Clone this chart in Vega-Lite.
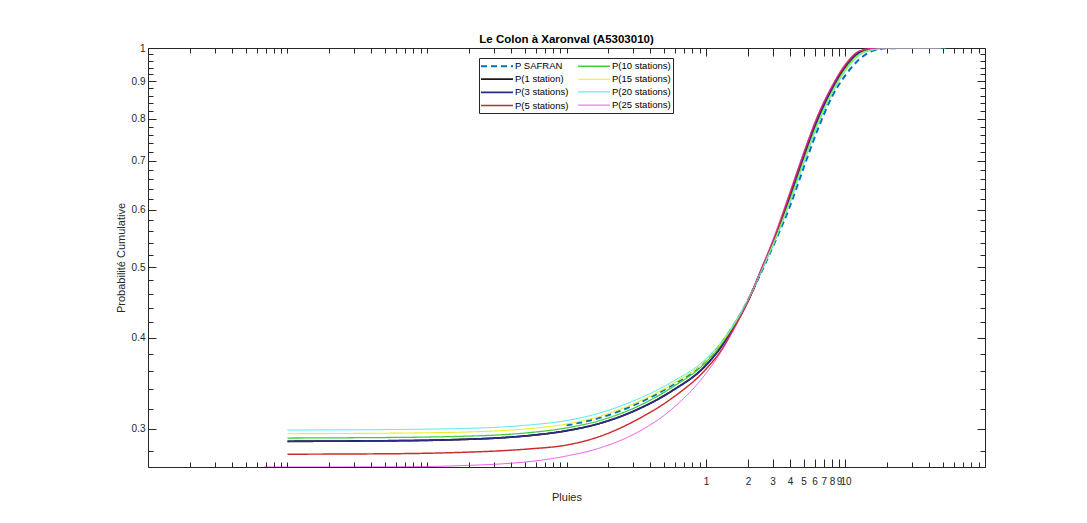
{
  "$schema": "https://vega.github.io/schema/vega-lite/v6.json",
  "width": 837,
  "height": 419,
  "autosize": {"type": "none"},
  "padding": {"left": 148, "top": 48, "right": 102, "bottom": 56},
  "background": "white",
  "title": {"text": "Le Colon à Xaronval (A5303010)", "font": "Liberation Sans", "fontSize": 11.5, "fontWeight": "bold", "color": "#000000", "offset": -2, "anchor": "middle"},
  "config": {
    "view": {"stroke": "#262626", "strokeWidth": 1},
    "font": "Liberation Sans",
    "axis": {"grid": false, "domain": false, "tickColor": "#262626", "labelColor": "#262626", "labelFont": "Liberation Sans", "labelFontSize": 10, "titleFont": "Liberation Sans", "titleFontSize": 11, "titleFontWeight": "normal", "titleColor": "#262626", "tickWidth": 1, "labelOverlap": false}
  },
  "datasets": {
    "curves": [
      {"s": "P SAFRAN", "x": 0.1, "p": 0.3035},
      {"s": "P SAFRAN", "x": 0.1778, "p": 0.3112},
      {"s": "P SAFRAN", "x": 0.3162, "p": 0.3245},
      {"s": "P SAFRAN", "x": 0.5623, "p": 0.3438},
      {"s": "P SAFRAN", "x": 1, "p": 0.3718},
      {"s": "P SAFRAN", "x": 1.259, "p": 0.391},
      {"s": "P SAFRAN", "x": 1.585, "p": 0.417},
      {"s": "P SAFRAN", "x": 1.995, "p": 0.4505},
      {"s": "P SAFRAN", "x": 2.512, "p": 0.494},
      {"s": "P SAFRAN", "x": 3.162, "p": 0.545},
      {"s": "P SAFRAN", "x": 3.981, "p": 0.605},
      {"s": "P SAFRAN", "x": 5.012, "p": 0.685},
      {"s": "P SAFRAN", "x": 6.31, "p": 0.772},
      {"s": "P SAFRAN", "x": 7.943, "p": 0.855},
      {"s": "P SAFRAN", "x": 10, "p": 0.918},
      {"s": "P SAFRAN", "x": 12.59, "p": 0.965},
      {"s": "P SAFRAN", "x": 15.85, "p": 0.992},
      {"s": "P SAFRAN", "x": 19.95, "p": 0.999},
      {"s": "P SAFRAN", "x": 31.62, "p": 1},
      {"s": "P SAFRAN", "x": 47.9, "p": 1},

      {"s": "P(1 station)", "x": 0.001, "p": 0.2885},
      {"s": "P(1 station)", "x": 0.003162, "p": 0.2888},
      {"s": "P(1 station)", "x": 0.01, "p": 0.2894},
      {"s": "P(1 station)", "x": 0.01778, "p": 0.2902},
      {"s": "P(1 station)", "x": 0.03162, "p": 0.2915},
      {"s": "P(1 station)", "x": 0.05623, "p": 0.294},
      {"s": "P(1 station)", "x": 0.1, "p": 0.2983},
      {"s": "P(1 station)", "x": 0.1778, "p": 0.3058},
      {"s": "P(1 station)", "x": 0.3162, "p": 0.3185},
      {"s": "P(1 station)", "x": 0.5623, "p": 0.3378},
      {"s": "P(1 station)", "x": 1, "p": 0.367},
      {"s": "P(1 station)", "x": 1.259, "p": 0.387},
      {"s": "P(1 station)", "x": 1.585, "p": 0.415},
      {"s": "P(1 station)", "x": 1.995, "p": 0.4495},
      {"s": "P(1 station)", "x": 2.512, "p": 0.497},
      {"s": "P(1 station)", "x": 3.162, "p": 0.551},
      {"s": "P(1 station)", "x": 3.981, "p": 0.622},
      {"s": "P(1 station)", "x": 5.012, "p": 0.707},
      {"s": "P(1 station)", "x": 6.31, "p": 0.797},
      {"s": "P(1 station)", "x": 7.943, "p": 0.876},
      {"s": "P(1 station)", "x": 10, "p": 0.942},
      {"s": "P(1 station)", "x": 12.59, "p": 0.986},
      {"s": "P(1 station)", "x": 15.85, "p": 0.998},
      {"s": "P(1 station)", "x": 19.95, "p": 1},
      {"s": "P(1 station)", "x": 31.62, "p": 1},
      {"s": "P(1 station)", "x": 47.9, "p": 1},

      {"s": "P(3 stations)", "x": 0.001, "p": 0.2885},
      {"s": "P(3 stations)", "x": 0.003162, "p": 0.2888},
      {"s": "P(3 stations)", "x": 0.01, "p": 0.2894},
      {"s": "P(3 stations)", "x": 0.01778, "p": 0.2902},
      {"s": "P(3 stations)", "x": 0.03162, "p": 0.2915},
      {"s": "P(3 stations)", "x": 0.05623, "p": 0.294},
      {"s": "P(3 stations)", "x": 0.1, "p": 0.2983},
      {"s": "P(3 stations)", "x": 0.1778, "p": 0.3058},
      {"s": "P(3 stations)", "x": 0.3162, "p": 0.3185},
      {"s": "P(3 stations)", "x": 0.5623, "p": 0.3378},
      {"s": "P(3 stations)", "x": 1, "p": 0.367},
      {"s": "P(3 stations)", "x": 1.259, "p": 0.387},
      {"s": "P(3 stations)", "x": 1.585, "p": 0.415},
      {"s": "P(3 stations)", "x": 1.995, "p": 0.4495},
      {"s": "P(3 stations)", "x": 2.512, "p": 0.497},
      {"s": "P(3 stations)", "x": 3.162, "p": 0.551},
      {"s": "P(3 stations)", "x": 3.981, "p": 0.622},
      {"s": "P(3 stations)", "x": 5.012, "p": 0.707},
      {"s": "P(3 stations)", "x": 6.31, "p": 0.797},
      {"s": "P(3 stations)", "x": 7.943, "p": 0.876},
      {"s": "P(3 stations)", "x": 10, "p": 0.942},
      {"s": "P(3 stations)", "x": 12.59, "p": 0.986},
      {"s": "P(3 stations)", "x": 15.85, "p": 0.998},
      {"s": "P(3 stations)", "x": 19.95, "p": 1},
      {"s": "P(3 stations)", "x": 31.62, "p": 1},
      {"s": "P(3 stations)", "x": 47.9, "p": 1},

      {"s": "P(5 stations)", "x": 0.001, "p": 0.277},
      {"s": "P(5 stations)", "x": 0.003162, "p": 0.2772},
      {"s": "P(5 stations)", "x": 0.01, "p": 0.2778},
      {"s": "P(5 stations)", "x": 0.01778, "p": 0.2786},
      {"s": "P(5 stations)", "x": 0.03162, "p": 0.2798},
      {"s": "P(5 stations)", "x": 0.05623, "p": 0.2818},
      {"s": "P(5 stations)", "x": 0.1, "p": 0.2851},
      {"s": "P(5 stations)", "x": 0.1778, "p": 0.2935},
      {"s": "P(5 stations)", "x": 0.3162, "p": 0.3085},
      {"s": "P(5 stations)", "x": 0.5623, "p": 0.33},
      {"s": "P(5 stations)", "x": 1, "p": 0.3625},
      {"s": "P(5 stations)", "x": 1.259, "p": 0.3825},
      {"s": "P(5 stations)", "x": 1.585, "p": 0.412},
      {"s": "P(5 stations)", "x": 1.995, "p": 0.4485},
      {"s": "P(5 stations)", "x": 2.512, "p": 0.499},
      {"s": "P(5 stations)", "x": 3.162, "p": 0.555},
      {"s": "P(5 stations)", "x": 3.981, "p": 0.63},
      {"s": "P(5 stations)", "x": 5.012, "p": 0.716},
      {"s": "P(5 stations)", "x": 6.31, "p": 0.806},
      {"s": "P(5 stations)", "x": 7.943, "p": 0.883},
      {"s": "P(5 stations)", "x": 10, "p": 0.948},
      {"s": "P(5 stations)", "x": 12.59, "p": 0.99},
      {"s": "P(5 stations)", "x": 15.85, "p": 0.999},
      {"s": "P(5 stations)", "x": 19.95, "p": 1},
      {"s": "P(5 stations)", "x": 31.62, "p": 1},
      {"s": "P(5 stations)", "x": 47.9, "p": 1},

      {"s": "P(10 stations)", "x": 0.001, "p": 0.2915},
      {"s": "P(10 stations)", "x": 0.003162, "p": 0.2918},
      {"s": "P(10 stations)", "x": 0.01, "p": 0.2924},
      {"s": "P(10 stations)", "x": 0.01778, "p": 0.2931},
      {"s": "P(10 stations)", "x": 0.03162, "p": 0.2943},
      {"s": "P(10 stations)", "x": 0.05623, "p": 0.2967},
      {"s": "P(10 stations)", "x": 0.1, "p": 0.301},
      {"s": "P(10 stations)", "x": 0.1778, "p": 0.3085},
      {"s": "P(10 stations)", "x": 0.3162, "p": 0.3215},
      {"s": "P(10 stations)", "x": 0.5623, "p": 0.3415},
      {"s": "P(10 stations)", "x": 1, "p": 0.3705},
      {"s": "P(10 stations)", "x": 1.259, "p": 0.39},
      {"s": "P(10 stations)", "x": 1.585, "p": 0.4165},
      {"s": "P(10 stations)", "x": 1.995, "p": 0.4505},
      {"s": "P(10 stations)", "x": 2.512, "p": 0.496},
      {"s": "P(10 stations)", "x": 3.162, "p": 0.549},
      {"s": "P(10 stations)", "x": 3.981, "p": 0.617},
      {"s": "P(10 stations)", "x": 5.012, "p": 0.7},
      {"s": "P(10 stations)", "x": 6.31, "p": 0.789},
      {"s": "P(10 stations)", "x": 7.943, "p": 0.868},
      {"s": "P(10 stations)", "x": 10, "p": 0.936},
      {"s": "P(10 stations)", "x": 12.59, "p": 0.981},
      {"s": "P(10 stations)", "x": 15.85, "p": 0.996},
      {"s": "P(10 stations)", "x": 19.95, "p": 1},
      {"s": "P(10 stations)", "x": 31.62, "p": 1},
      {"s": "P(10 stations)", "x": 47.9, "p": 1},

      {"s": "P(15 stations)", "x": 0.001, "p": 0.2955},
      {"s": "P(15 stations)", "x": 0.003162, "p": 0.2958},
      {"s": "P(15 stations)", "x": 0.01, "p": 0.2964},
      {"s": "P(15 stations)", "x": 0.01778, "p": 0.297},
      {"s": "P(15 stations)", "x": 0.03162, "p": 0.2982},
      {"s": "P(15 stations)", "x": 0.05623, "p": 0.3005},
      {"s": "P(15 stations)", "x": 0.1, "p": 0.3047},
      {"s": "P(15 stations)", "x": 0.1778, "p": 0.3128},
      {"s": "P(15 stations)", "x": 0.3162, "p": 0.326},
      {"s": "P(15 stations)", "x": 0.5623, "p": 0.345},
      {"s": "P(15 stations)", "x": 1, "p": 0.3725},
      {"s": "P(15 stations)", "x": 1.259, "p": 0.3915},
      {"s": "P(15 stations)", "x": 1.585, "p": 0.4175},
      {"s": "P(15 stations)", "x": 1.995, "p": 0.451},
      {"s": "P(15 stations)", "x": 2.512, "p": 0.496},
      {"s": "P(15 stations)", "x": 3.162, "p": 0.548},
      {"s": "P(15 stations)", "x": 3.981, "p": 0.614},
      {"s": "P(15 stations)", "x": 5.012, "p": 0.697},
      {"s": "P(15 stations)", "x": 6.31, "p": 0.786},
      {"s": "P(15 stations)", "x": 7.943, "p": 0.866},
      {"s": "P(15 stations)", "x": 10, "p": 0.933},
      {"s": "P(15 stations)", "x": 12.59, "p": 0.979},
      {"s": "P(15 stations)", "x": 15.85, "p": 0.995},
      {"s": "P(15 stations)", "x": 19.95, "p": 1},
      {"s": "P(15 stations)", "x": 31.62, "p": 1},
      {"s": "P(15 stations)", "x": 47.9, "p": 1},

      {"s": "P(20 stations)", "x": 0.001, "p": 0.299},
      {"s": "P(20 stations)", "x": 0.003162, "p": 0.2992},
      {"s": "P(20 stations)", "x": 0.01, "p": 0.2998},
      {"s": "P(20 stations)", "x": 0.01778, "p": 0.3004},
      {"s": "P(20 stations)", "x": 0.03162, "p": 0.3016},
      {"s": "P(20 stations)", "x": 0.05623, "p": 0.304},
      {"s": "P(20 stations)", "x": 0.1, "p": 0.308},
      {"s": "P(20 stations)", "x": 0.1778, "p": 0.316},
      {"s": "P(20 stations)", "x": 0.3162, "p": 0.329},
      {"s": "P(20 stations)", "x": 0.5623, "p": 0.3475},
      {"s": "P(20 stations)", "x": 1, "p": 0.3745},
      {"s": "P(20 stations)", "x": 1.259, "p": 0.393},
      {"s": "P(20 stations)", "x": 1.585, "p": 0.4185},
      {"s": "P(20 stations)", "x": 1.995, "p": 0.4515},
      {"s": "P(20 stations)", "x": 2.512, "p": 0.495},
      {"s": "P(20 stations)", "x": 3.162, "p": 0.547},
      {"s": "P(20 stations)", "x": 3.981, "p": 0.612},
      {"s": "P(20 stations)", "x": 5.012, "p": 0.694},
      {"s": "P(20 stations)", "x": 6.31, "p": 0.783},
      {"s": "P(20 stations)", "x": 7.943, "p": 0.863},
      {"s": "P(20 stations)", "x": 10, "p": 0.93},
      {"s": "P(20 stations)", "x": 12.59, "p": 0.977},
      {"s": "P(20 stations)", "x": 15.85, "p": 0.994},
      {"s": "P(20 stations)", "x": 19.95, "p": 1},
      {"s": "P(20 stations)", "x": 31.62, "p": 1},
      {"s": "P(20 stations)", "x": 52.5, "p": 1},

      {"s": "P(25 stations)", "x": 0.00068, "p": 0.266},
      {"s": "P(25 stations)", "x": 0.001, "p": 0.266},
      {"s": "P(25 stations)", "x": 0.003162, "p": 0.2661},
      {"s": "P(25 stations)", "x": 0.01, "p": 0.2664},
      {"s": "P(25 stations)", "x": 0.01778, "p": 0.2672},
      {"s": "P(25 stations)", "x": 0.03162, "p": 0.2684},
      {"s": "P(25 stations)", "x": 0.05623, "p": 0.2708},
      {"s": "P(25 stations)", "x": 0.1, "p": 0.2754},
      {"s": "P(25 stations)", "x": 0.1778, "p": 0.2829},
      {"s": "P(25 stations)", "x": 0.3162, "p": 0.2962},
      {"s": "P(25 stations)", "x": 0.5623, "p": 0.3188},
      {"s": "P(25 stations)", "x": 1, "p": 0.3576},
      {"s": "P(25 stations)", "x": 1.259, "p": 0.3807},
      {"s": "P(25 stations)", "x": 1.585, "p": 0.4115},
      {"s": "P(25 stations)", "x": 1.995, "p": 0.4501},
      {"s": "P(25 stations)", "x": 2.512, "p": 0.4984},
      {"s": "P(25 stations)", "x": 3.162, "p": 0.5595},
      {"s": "P(25 stations)", "x": 3.981, "p": 0.6333},
      {"s": "P(25 stations)", "x": 5.012, "p": 0.719},
      {"s": "P(25 stations)", "x": 6.31, "p": 0.8066},
      {"s": "P(25 stations)", "x": 7.943, "p": 0.8845},
      {"s": "P(25 stations)", "x": 10, "p": 0.952},
      {"s": "P(25 stations)", "x": 12.59, "p": 0.991},
      {"s": "P(25 stations)", "x": 15.85, "p": 0.999},
      {"s": "P(25 stations)", "x": 19.95, "p": 1},
      {"s": "P(25 stations)", "x": 31.62, "p": 1},
      {"s": "P(25 stations)", "x": 47.9, "p": 1}
    ],
    "anchor": [{"x": 1, "p": 0.5}]
  },
  "layer": [
    {
      "data": {"name": "curves"},
      "mark": {"type": "line", "clip": true, "interpolate": "monotone"},
      "encoding": {
        "x": {"field": "x", "type": "quantitative", "scale": {"type": "log", "domain": [0.0001, 100], "nice": false},
              "axis": {"orient": "bottom", "values": [1, 2, 3, 4, 5, 6, 7, 8, 9, 10], "format": "~g", "tickSize": -8, "labelPadding": 17, "title": "Pluies", "titlePadding": 5}},
        "y": {"field": "p", "type": "quantitative", "scale": {"type": "log", "domain": [0.266, 1], "nice": false},
              "axis": {"orient": "left", "values": [0.3, 0.4, 0.5, 0.6, 0.7, 0.8, 0.9, 1], "format": "~g", "tickSize": -8, "labelPadding": 11, "title": "Probabilité Cumulative", "titlePadding": 5}},
        "color": {"field": "s", "type": "nominal",
                  "scale": {"domain": ["P SAFRAN", "P(1 station)", "P(3 stations)", "P(5 stations)", "P(10 stations)", "P(15 stations)", "P(20 stations)", "P(25 stations)"],
                            "range": ["#0072BD", "#1a1a1a", "#2a2a8c", "#cc2b2b", "#3ccf3c", "#eded2a", "#2ee6ee", "#e022e0"]},
                  "legend": {"orient": "none", "legendX": 331, "legendY": 10, "columns": 2, "title": null, "symbolType": "M-3.2,0H3.2", "symbolSize": 100,
                             "symbolOffset": 10, "labelFont": "Liberation Sans", "labelFontSize": 9.5, "labelColor": "#000000", "strokeColor": "#262626", "fillColor": "#ffffff",
                             "padding": 2, "rowPadding": 2.2, "columnPadding": 6, "labelOffset": 12, "symbolStrokeWidth": 1}},
        "strokeDash": {"field": "s", "type": "nominal",
                       "scale": {"domain": ["P SAFRAN", "P(1 station)", "P(3 stations)", "P(5 stations)", "P(10 stations)", "P(15 stations)", "P(20 stations)", "P(25 stations)"],
                                 "range": [[6, 4], [1, 0], [1, 0], [1, 0], [1, 0], [1, 0], [1, 0], [1, 0]]}},
        "strokeWidth": {"field": "s", "type": "nominal",
                        "scale": {"domain": ["P SAFRAN", "P(1 station)", "P(3 stations)", "P(5 stations)", "P(10 stations)", "P(15 stations)", "P(20 stations)", "P(25 stations)"],
                                  "range": [2, 0.75, 0.75, 0.75, 0.75, 0.75, 0.75, 0.75]}}
      }
    },
    {
      "data": {"name": "anchor"},
      "mark": {"type": "point", "opacity": 0},
      "encoding": {
        "x": {"field": "x", "type": "quantitative", "scale": {"type": "log", "domain": [0.0001, 100], "nice": false},
              "axis": {"orient": "bottom", "values": [0.0001, 0.0002, 0.0003, 0.0004, 0.0005, 0.0006, 0.0007, 0.0008, 0.0009, 0.001, 0.002, 0.003, 0.004, 0.005, 0.006, 0.007, 0.008, 0.009, 0.01, 0.02, 0.03, 0.04, 0.05, 0.06, 0.07, 0.08, 0.09, 0.1, 0.2, 0.3, 0.4, 0.5, 0.6, 0.7, 0.8, 0.9, 20, 30, 40, 50, 60, 70, 80, 90, 100], "tickSize": -5, "labels": false, "title": null}},
        "y": {"field": "p", "type": "quantitative", "scale": {"type": "log", "domain": [0.266, 1], "nice": false},
              "axis": {"orient": "left", "values": [0.28, 0.32, 0.34, 0.36, 0.38, 0.42, 0.44, 0.46, 0.48, 0.52, 0.54, 0.56, 0.58, 0.62, 0.64, 0.66, 0.68, 0.72, 0.74, 0.76, 0.78, 0.82, 0.84, 0.86, 0.88, 0.92, 0.94, 0.96, 0.98], "tickSize": -5, "labels": false, "title": null}}
      }
    },
    {
      "data": {"name": "anchor"},
      "mark": {"type": "point", "opacity": 0},
      "encoding": {
        "x": {"field": "x", "type": "quantitative", "scale": {"type": "log", "domain": [0.0001, 100], "nice": false},
              "axis": {"orient": "top", "values": [1, 2, 3, 4, 5, 6, 7, 8, 9, 10], "tickSize": -8, "labels": false, "title": null}},
        "y": {"field": "p", "type": "quantitative", "scale": {"type": "log", "domain": [0.266, 1], "nice": false},
              "axis": {"orient": "right", "values": [0.3, 0.4, 0.5, 0.6, 0.7, 0.8, 0.9, 1], "tickSize": -8, "labels": false, "title": null}}
      }
    },
    {
      "data": {"name": "anchor"},
      "mark": {"type": "point", "opacity": 0},
      "encoding": {
        "x": {"field": "x", "type": "quantitative", "scale": {"type": "log", "domain": [0.0001, 100], "nice": false},
              "axis": {"orient": "top", "values": [0.0001, 0.0002, 0.0003, 0.0004, 0.0005, 0.0006, 0.0007, 0.0008, 0.0009, 0.001, 0.002, 0.003, 0.004, 0.005, 0.006, 0.007, 0.008, 0.009, 0.01, 0.02, 0.03, 0.04, 0.05, 0.06, 0.07, 0.08, 0.09, 0.1, 0.2, 0.3, 0.4, 0.5, 0.6, 0.7, 0.8, 0.9, 20, 30, 40, 50, 60, 70, 80, 90, 100], "tickSize": -5, "labels": false, "title": null}},
        "y": {"field": "p", "type": "quantitative", "scale": {"type": "log", "domain": [0.266, 1], "nice": false},
              "axis": {"orient": "right", "values": [0.28, 0.32, 0.34, 0.36, 0.38, 0.42, 0.44, 0.46, 0.48, 0.52, 0.54, 0.56, 0.58, 0.62, 0.64, 0.66, 0.68, 0.72, 0.74, 0.76, 0.78, 0.82, 0.84, 0.86, 0.88, 0.92, 0.94, 0.96, 0.98], "tickSize": -5, "labels": false, "title": null}}
      }
    }
  ],
  "resolve": {"axis": {"x": "independent", "y": "independent"}}
}
